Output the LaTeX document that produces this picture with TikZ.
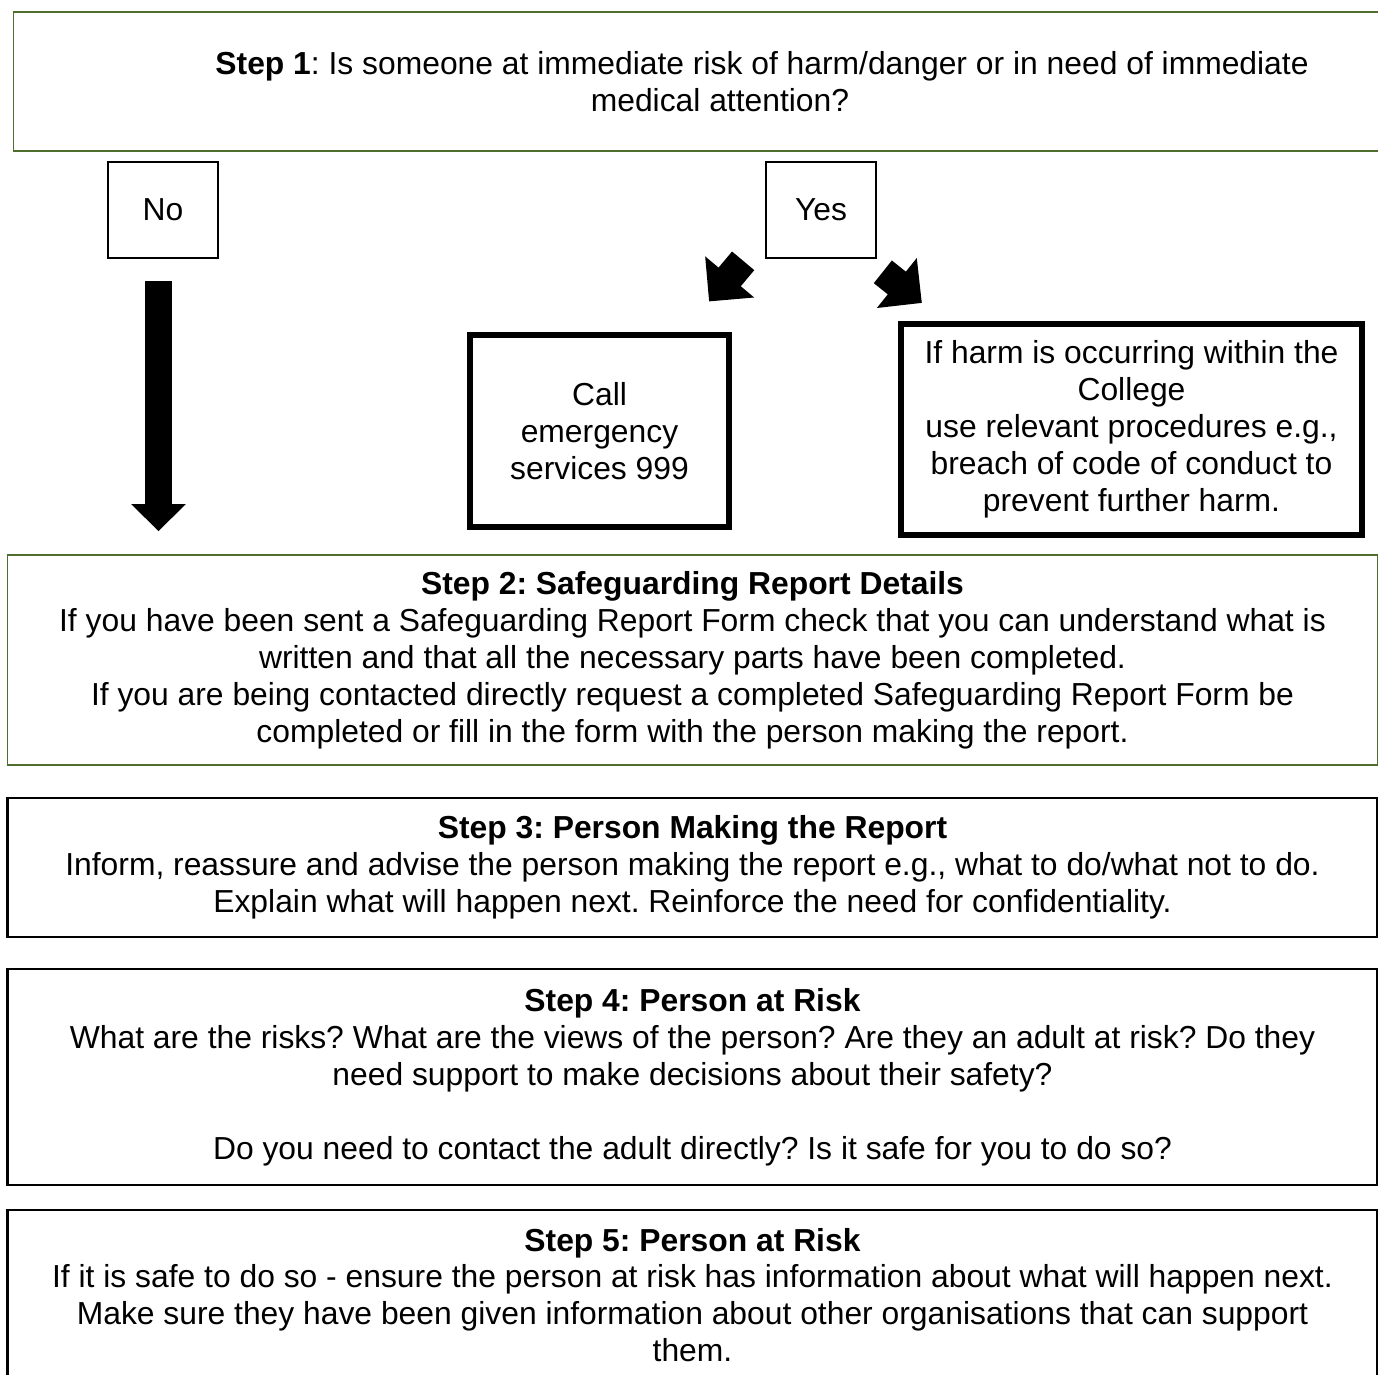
\documentclass[tikz,border=0pt]{standalone}
\usepackage{fontspec}
\setmainfont{Liberation Sans}
\usepackage{xcolor}
\usetikzlibrary{arrows.meta, positioning}
\definecolor{stepgreen}{RGB}{79,110,45}
\frenchspacing

\begin{document}
\begin{tikzpicture}[
  x=0.01cm, y=-0.01cm,
  font=\fontsize{9.05}{10.5}\selectfont,
  greenbox/.style={draw=stepgreen, line width=0.016cm, align=center, inner sep=0pt},
  stepbox/.style={draw, line width=0.026cm, align=center, inner sep=0pt, minimum width=13.69cm},
  answer/.style={draw, line width=0.016cm, minimum width=1.10cm, minimum height=0.96cm, inner sep=0pt},
  action/.style={draw, line width=0.06cm, align=center, inner sep=0pt},
  blockarrow/.style={line width=0.26cm, -{Triangle[length=0.27cm, width=0.53cm]}},
  slant/.style={line width=0.29cm, -{Triangle[length=0.32cm, width=0.62cm]}}
]
  \useasboundingbox (0,0) rectangle (1378,1375);

  % question and the two answers
  \node[greenbox, minimum width=14.12cm, minimum height=1.39cm] (s1) at (720,81.5)
    {\hspace*{0.84cm}\textbf{Step 1}: Is someone at immediate risk of harm/danger or in need of immediate\\medical attention?};
  \node[answer] (no) at (163,210) {No};
  \node[answer] (yes) at (821,210) {Yes};

  % what to do straight away
  \node[action, minimum width=2.59cm, minimum height=1.91cm] (call) at (599.5,431)
    {Call\\emergency\\services 999};
  \node[action, minimum width=4.61cm, minimum height=2.11cm] (harm) at (1131.5,429.5)
    {If harm is occurring within the\\College\\use relevant procedures e.g.,\\breach of code of conduct to\\prevent further harm.};

  % the steps
  \node[greenbox, minimum width=13.69cm, minimum height=2.10cm] (s2) at (692.5,660)
    {\textbf{Step 2: Safeguarding Report Details}\\If you have been sent a Safeguarding Report Form check that you can understand what is\\written and that all the necessary parts have been completed.\\If you are being contacted directly request a completed Safeguarding Report Form be\\completed or fill in the form with the person making the report.};
  \node[stepbox, minimum height=1.39cm] (s3) at (692.5,867.5)
    {\textbf{Step 3: Person Making the Report}\\Inform, reassure and advise the person making the report e.g., what to do/what not to do.\\Explain what will happen next. Reinforce the need for confidentiality.};
  \node[stepbox, minimum height=2.16cm] (s4) at (692.5,1077)
    {\textbf{Step 4: Person at Risk}\\What are the risks? What are the views of the person? Are they an adult at risk? Do they\\need support to make decisions about their safety?\\[10.5pt]Do you need to contact the adult directly? Is it safe for you to do so?};
  \node[stepbox, minimum height=1.70cm] (s5) at (692.5,1295)
    {\textbf{Step 5: Person at Risk}\\If it is safe to do so - ensure the person at risk has information about what will happen next.\\Make sure they have been given information about other organisations that can support\\them.};

  % arrows
  \coordinate (nostart) at ([shift={(-4.5,22)}]no.south);
  \coordinate (noend) at (nostart |- s2.north);
  \draw[blockarrow, shorten >=0.23cm] (nostart) -- (noend);
  \draw[slant] ([shift={(-22,2)}]yes.south west) -- ([shift={(-23,-31)}]call.north east);
  \draw[slant] ([shift={(6,13)}]yes.south east) -- ([shift={(24,-18)}]harm.north west);
\end{tikzpicture}
\end{document}
